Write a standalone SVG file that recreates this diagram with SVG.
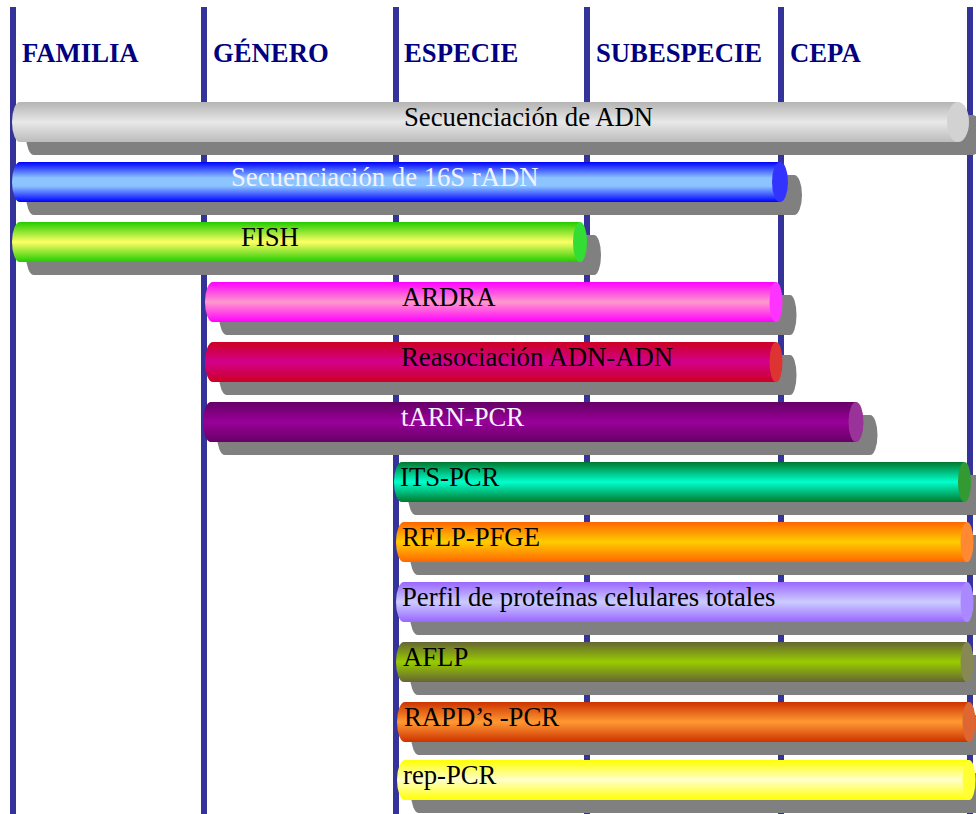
<svg xmlns="http://www.w3.org/2000/svg" width="976" height="814" viewBox="0 0 976 814">
  <style>
    .rank { font-family: "Liberation Serif", "Times New Roman", serif; font-weight: bold; font-size: 26.7px; fill: #000080; }
    .lbl { font-family: "Liberation Serif", "Times New Roman", serif; font-size: 26.7px; fill: #000000; }
    .lbl-light { fill: #f2f2ff; }
    .shadow { fill: #808080; }
    .axis { fill: #333399; }
  </style>
  <defs>
    <linearGradient id="gGray" x1="0" y1="0" x2="0" y2="1">
      <stop offset="0" stop-color="#b4b4b4"/><stop offset="0.5" stop-color="#e8e8e8"/><stop offset="1" stop-color="#bcbcbc"/>
    </linearGradient>
    <linearGradient id="gBlue" x1="0" y1="0" x2="0" y2="1">
      <stop offset="0" stop-color="#0000ff"/><stop offset="0.4" stop-color="#8cc4ff"/><stop offset="0.6" stop-color="#8cc4ff"/><stop offset="1" stop-color="#0000ff"/>
    </linearGradient>
    <linearGradient id="gFish" x1="0" y1="0" x2="0" y2="1">
      <stop offset="0" stop-color="#22cc00"/><stop offset="0.5" stop-color="#ffff66"/><stop offset="1" stop-color="#22cc00"/>
    </linearGradient>
    <linearGradient id="gArdra" x1="0" y1="0" x2="0" y2="1">
      <stop offset="0" stop-color="#ff00ff"/><stop offset="0.5" stop-color="#ff99cc"/><stop offset="1" stop-color="#ff00ff"/>
    </linearGradient>
    <linearGradient id="gReas" x1="0" y1="0" x2="0" y2="1">
      <stop offset="0" stop-color="#cc0022"/><stop offset="0.5" stop-color="#d4008c"/><stop offset="1" stop-color="#cc0022"/>
    </linearGradient>
    <linearGradient id="gTarn" x1="0" y1="0" x2="0" y2="1">
      <stop offset="0" stop-color="#660066"/><stop offset="0.5" stop-color="#990099"/><stop offset="1" stop-color="#660066"/>
    </linearGradient>
    <linearGradient id="gIts" x1="0" y1="0" x2="0" y2="1">
      <stop offset="0" stop-color="#007a2e"/><stop offset="0.5" stop-color="#00ffcc"/><stop offset="1" stop-color="#007a2e"/>
    </linearGradient>
    <linearGradient id="gRflp" x1="0" y1="0" x2="0" y2="1">
      <stop offset="0" stop-color="#ff6600"/><stop offset="0.5" stop-color="#ffcc00"/><stop offset="1" stop-color="#ff6600"/>
    </linearGradient>
    <linearGradient id="gPerfil" x1="0" y1="0" x2="0" y2="1">
      <stop offset="0" stop-color="#9966ff"/><stop offset="0.5" stop-color="#ccccff"/><stop offset="1" stop-color="#9966ff"/>
    </linearGradient>
    <linearGradient id="gAflp" x1="0" y1="0" x2="0" y2="1">
      <stop offset="0" stop-color="#666633"/><stop offset="0.5" stop-color="#99cc00"/><stop offset="1" stop-color="#666633"/>
    </linearGradient>
    <linearGradient id="gRapd" x1="0" y1="0" x2="0" y2="1">
      <stop offset="0" stop-color="#cc3300"/><stop offset="0.5" stop-color="#ff9933"/><stop offset="1" stop-color="#cc3300"/>
    </linearGradient>
    <linearGradient id="gRep" x1="0" y1="0" x2="0" y2="1">
      <stop offset="0" stop-color="#ffff00"/><stop offset="0.5" stop-color="#ffffcc"/><stop offset="1" stop-color="#ffff00"/>
    </linearGradient>
  </defs>

  <rect width="976" height="814" fill="#ffffff"/>

  <!-- taxonomic rank dividers -->
  <g id="dividers">
    <rect class="axis" x="10" y="7" width="6" height="807"/>
    <rect class="axis" x="201" y="7" width="6" height="807"/>
    <rect class="axis" x="393" y="7" width="6" height="807"/>
    <rect class="axis" x="584" y="7" width="6" height="807"/>
    <rect class="axis" x="778" y="7" width="6" height="807"/>
    <rect class="axis" x="967" y="7" width="6" height="807"/>
  </g>

  <!-- rank headings -->
  <g id="headings">
    <text class="rank" x="22" y="62">FAMILIA</text>
    <text class="rank" x="213" y="62">GÉNERO</text>
    <text class="rank" x="404" y="62">ESPECIE</text>
    <text class="rank" x="596" y="62">SUBESPECIE</text>
    <text class="rank" x="790" y="62">CEPA</text>
  </g>

  <!-- method bars: shadow, cylinder body, end cap, label -->
  <g id="bar-adn">
    <g class="shadow" transform="translate(14,13)">
      <path d="M20 102 H958 V142 H20 A8 20 0 0 1 20 102 Z"/><ellipse cx="958" cy="122" rx="11" ry="20"/>
    </g>
    <path d="M20 102 H958 V142 H20 A8 20 0 0 1 20 102 Z" fill="url(#gGray)"/>
    <ellipse cx="958" cy="122" rx="11" ry="20" fill="#d2d2d2"/>
    <text class="lbl" x="404" y="126">Secuenciación de ADN</text>
  </g>

  <g id="bar-16s">
    <g class="shadow" transform="translate(14,13)">
      <path d="M20 162 H780 V202 H20 A8 20 0 0 1 20 162 Z"/><ellipse cx="780" cy="182" rx="8" ry="20"/>
    </g>
    <path d="M20 162 H780 V202 H20 A8 20 0 0 1 20 162 Z" fill="url(#gBlue)"/>
    <ellipse cx="780" cy="182" rx="8" ry="20" fill="#3333ff"/>
    <text class="lbl lbl-light" x="231" y="186">Secuenciación de 16S rADN</text>
  </g>

  <g id="bar-fish">
    <g class="shadow" transform="translate(14,13)">
      <path d="M20 222 H580 V262 H20 A8 20 0 0 1 20 222 Z"/><ellipse cx="580" cy="242" rx="7" ry="20"/>
    </g>
    <path d="M20 222 H580 V262 H20 A8 20 0 0 1 20 222 Z" fill="url(#gFish)"/>
    <ellipse cx="580" cy="242" rx="7" ry="20" fill="#33dd33"/>
    <text class="lbl" x="241" y="246">FISH</text>
  </g>

  <g id="bar-ardra">
    <g class="shadow" transform="translate(14,13)">
      <path d="M213 282 H776 V322 H213 A8 20 0 0 1 213 282 Z"/><ellipse cx="776" cy="302" rx="6.5" ry="20"/>
    </g>
    <path d="M213 282 H776 V322 H213 A8 20 0 0 1 213 282 Z" fill="url(#gArdra)"/>
    <ellipse cx="776" cy="302" rx="6.5" ry="20" fill="#ff33ff"/>
    <text class="lbl" x="402" y="306">ARDRA</text>
  </g>

  <g id="bar-reasociacion">
    <g class="shadow" transform="translate(14,13)">
      <path d="M213 342 H776 V382 H213 A8 20 0 0 1 213 342 Z"/><ellipse cx="776" cy="362" rx="6.5" ry="20"/>
    </g>
    <path d="M213 342 H776 V382 H213 A8 20 0 0 1 213 342 Z" fill="url(#gReas)"/>
    <ellipse cx="776" cy="362" rx="6.5" ry="20" fill="#dd3333"/>
    <text class="lbl" x="401" y="366">Reasociación ADN-ADN</text>
  </g>

  <g id="bar-tarn">
    <g class="shadow" transform="translate(14,13)">
      <path d="M211 402 H856 V442 H211 A8 20 0 0 1 211 402 Z"/><ellipse cx="856" cy="422" rx="7.5" ry="20"/>
    </g>
    <path d="M211 402 H856 V442 H211 A8 20 0 0 1 211 402 Z" fill="url(#gTarn)"/>
    <ellipse cx="856" cy="422" rx="7.5" ry="20" fill="#993399"/>
    <text class="lbl lbl-light" x="401" y="426">tARN-PCR</text>
  </g>

  <g id="bar-its">
    <g class="shadow" transform="translate(14,13)">
      <path d="M402 462 H964.5 V502 H402 A8 20 0 0 1 402 462 Z"/><ellipse cx="964.5" cy="482" rx="6.5" ry="20"/>
    </g>
    <path d="M402 462 H964.5 V502 H402 A8 20 0 0 1 402 462 Z" fill="url(#gIts)"/>
    <ellipse cx="964.5" cy="482" rx="6.5" ry="20" fill="#339933"/>
    <text class="lbl" x="400" y="486">ITS-PCR</text>
  </g>

  <g id="bar-rflp">
    <g class="shadow" transform="translate(14,13)">
      <path d="M404 522 H967 V562 H404 A8 20 0 0 1 404 522 Z"/><ellipse cx="967" cy="542" rx="6.5" ry="20"/>
    </g>
    <path d="M404 522 H967 V562 H404 A8 20 0 0 1 404 522 Z" fill="url(#gRflp)"/>
    <ellipse cx="967" cy="542" rx="6.5" ry="20" fill="#ff8833"/>
    <text class="lbl" x="402" y="546">RFLP-PFGE</text>
  </g>

  <g id="bar-perfil">
    <g class="shadow" transform="translate(14,13)">
      <path d="M404 582 H967 V622 H404 A8 20 0 0 1 404 582 Z"/><ellipse cx="967" cy="602" rx="6.5" ry="20"/>
    </g>
    <path d="M404 582 H967 V622 H404 A8 20 0 0 1 404 582 Z" fill="url(#gPerfil)"/>
    <ellipse cx="967" cy="602" rx="6.5" ry="20" fill="#aa88ff"/>
    <text class="lbl" x="402" y="606">Perfil de proteínas celulares totales</text>
  </g>

  <g id="bar-aflp">
    <g class="shadow" transform="translate(14,13)">
      <path d="M404 642 H967 V682 H404 A8 20 0 0 1 404 642 Z"/><ellipse cx="967" cy="662" rx="6.5" ry="20"/>
    </g>
    <path d="M404 642 H967 V682 H404 A8 20 0 0 1 404 642 Z" fill="url(#gAflp)"/>
    <ellipse cx="967" cy="662" rx="6.5" ry="20" fill="#888855"/>
    <text class="lbl" x="403" y="666">AFLP</text>
  </g>

  <g id="bar-rapd">
    <g class="shadow" transform="translate(14,13)">
      <path d="M405 702 H969 V742 H405 A8 20 0 0 1 405 702 Z"/><ellipse cx="969" cy="722" rx="6.5" ry="20"/>
    </g>
    <path d="M405 702 H969 V742 H405 A8 20 0 0 1 405 702 Z" fill="url(#gRapd)"/>
    <ellipse cx="969" cy="722" rx="6.5" ry="20" fill="#dd6633"/>
    <text class="lbl" x="404" y="726">RAPD’s -PCR</text>
  </g>

  <g id="bar-rep">
    <g class="shadow" transform="translate(14,13)">
      <path d="M405 760 H969 V800 H405 A8 20 0 0 1 405 760 Z"/><ellipse cx="969" cy="780" rx="6.5" ry="20"/>
    </g>
    <path d="M405 760 H969 V800 H405 A8 20 0 0 1 405 760 Z" fill="url(#gRep)"/>
    <ellipse cx="969" cy="780" rx="6.5" ry="20" fill="#ffff33"/>
    <text class="lbl" x="403" y="784">rep-PCR</text>
  </g>
</svg>
